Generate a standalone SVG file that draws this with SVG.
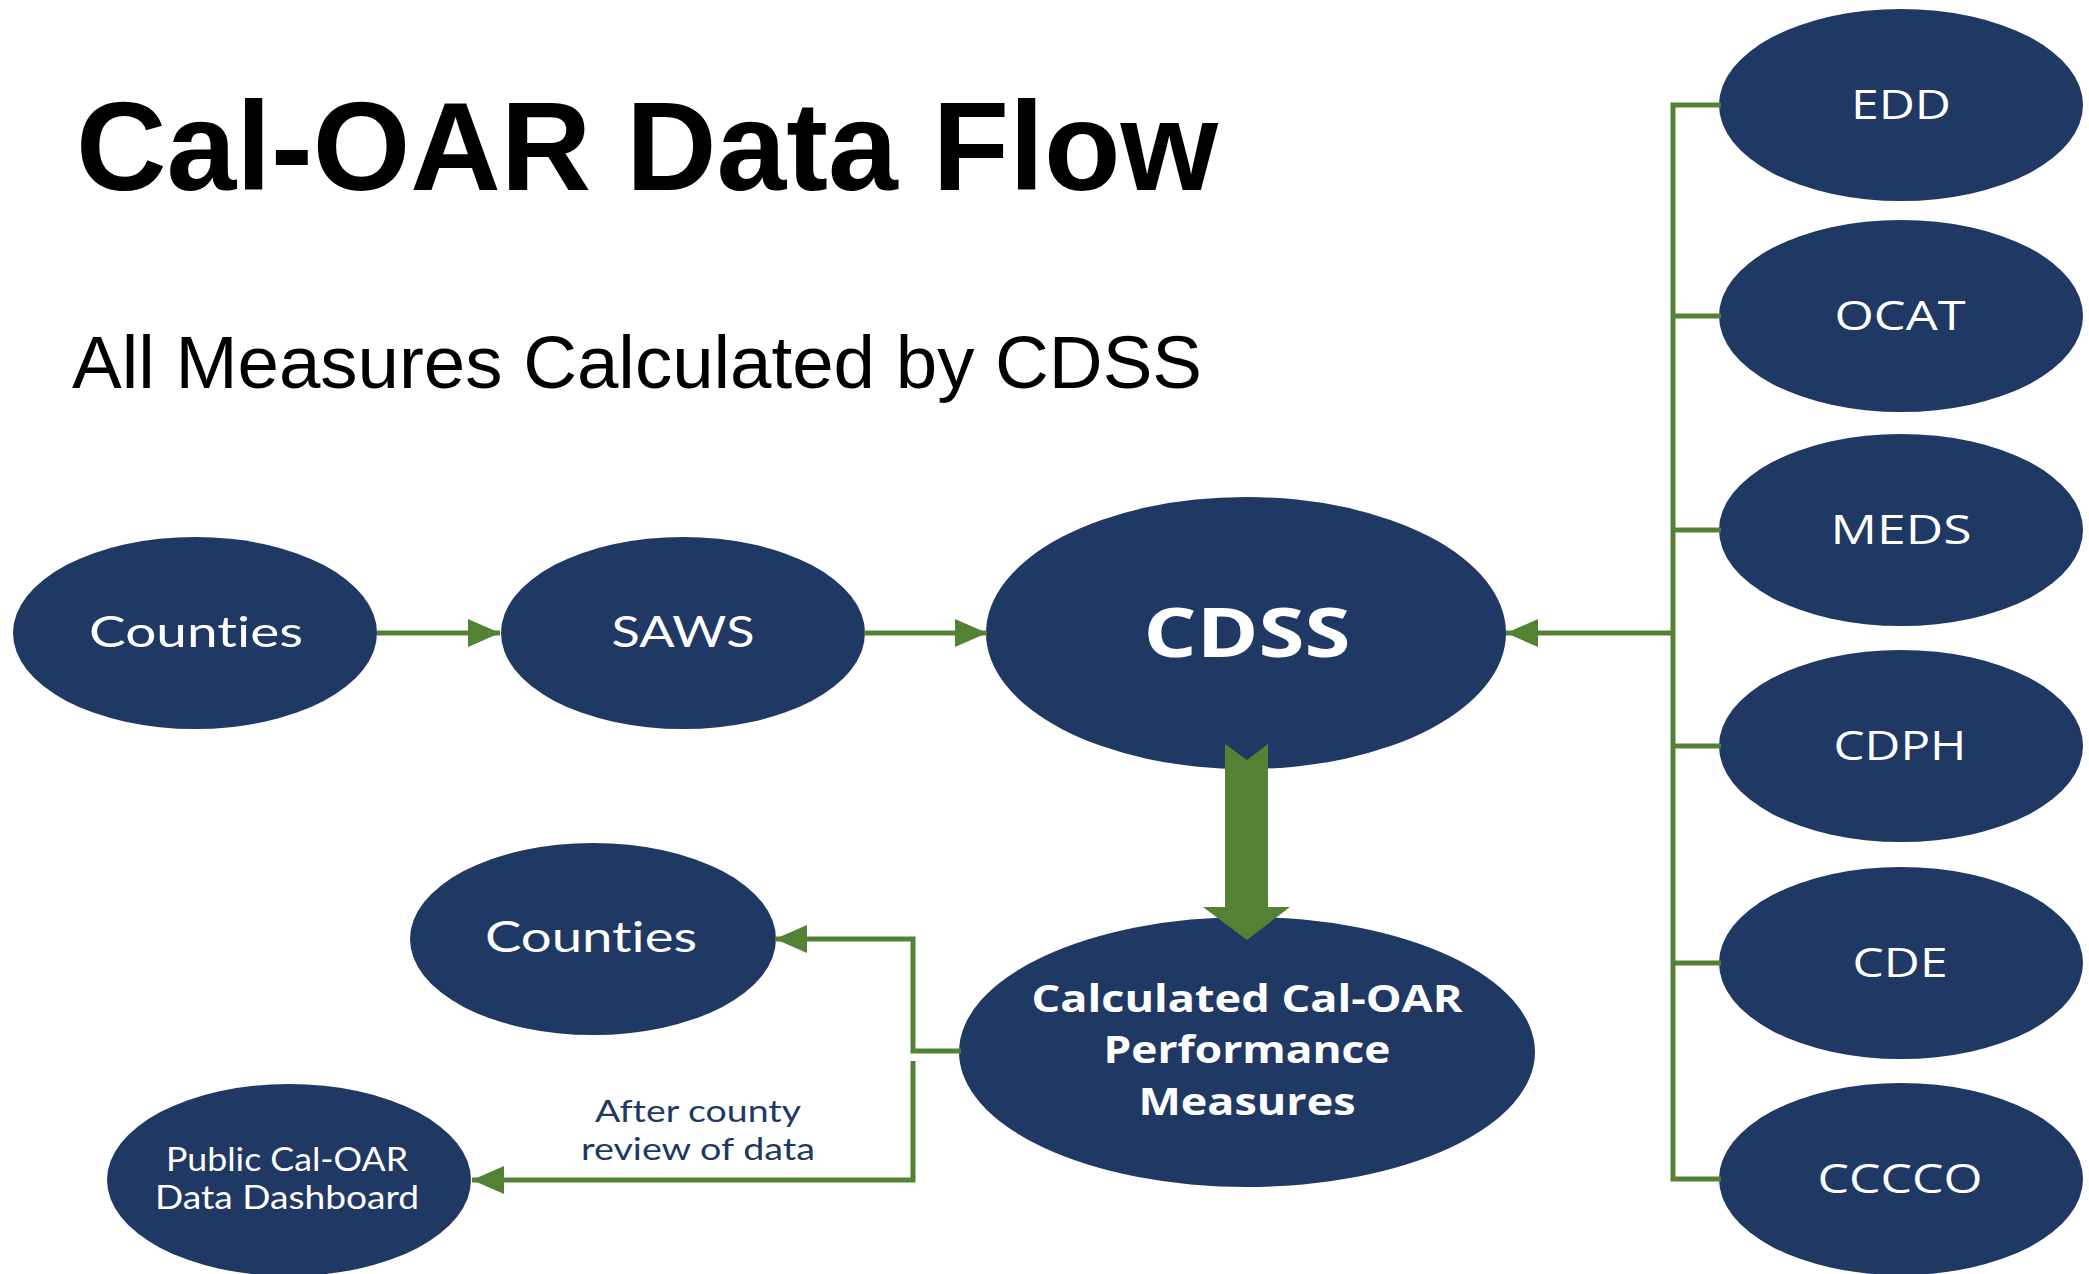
<svg xmlns="http://www.w3.org/2000/svg" width="2089" height="1274" viewBox="0 0 2089 1274">
  <style>
    text { font-variant-ligatures: none; font-feature-settings: "liga" 0, "clig" 0, "dlig" 0, "calt" 0; }
    .node { fill: #203864; }
    .lbl { fill: #ffffff; font-family: "Open Sans", "Liberation Sans", sans-serif; font-size: 41px; text-anchor: middle; }
    .lblc { fill: #ffffff; font-family: Lato, "Open Sans", sans-serif; font-size: 42px; text-anchor: middle; }
    .big { fill: #ffffff; font-family: "Open Sans", "Liberation Sans", sans-serif; font-size: 68px; font-weight: bold; text-anchor: middle; }
    .calc { fill: #ffffff; font-family: "Open Sans", "Liberation Sans", sans-serif; font-size: 38px; font-weight: bold; text-anchor: middle; }
    .small { fill: #ffffff; font-family: Lato, "Open Sans", sans-serif; font-size: 32px; text-anchor: middle; }
    .conn { fill: none; stroke: #548235; stroke-width: 5; stroke-linejoin: miter; stroke-linecap: butt; }
    .note { fill: #203864; font-family: Lato, "Open Sans", sans-serif; font-size: 31px; text-anchor: middle; }
    .title { fill: #000000; font-family: "Liberation Sans", Arial, sans-serif; }
  </style>
  <defs>
    <marker id="arrow" viewBox="0 0 32 28" refX="32" refY="14" markerWidth="32" markerHeight="28" markerUnits="userSpaceOnUse" orient="auto">
      <path d="M0,0 L32,14 L0,28 Z" fill="#548235"/>
    </marker>
  </defs>
  <rect width="2089" height="1274" fill="#ffffff"/>

  <text class="title" x="76" y="190" font-size="126" font-weight="bold" textLength="1142" lengthAdjust="spacingAndGlyphs">Cal-OAR Data Flow</text>
  <text class="title" x="72" y="388" font-size="74" textLength="1130" lengthAdjust="spacingAndGlyphs">All Measures Calculated by CDSS</text>

  <g id="node-counties-in">
    <ellipse class="node" cx="195" cy="633" rx="182" ry="96"/>
    <text class="lblc" x="196" y="647" textLength="214" lengthAdjust="spacingAndGlyphs">Counties</text>
  </g>
  <g id="node-saws">
    <ellipse class="node" cx="683" cy="633" rx="182" ry="96"/>
    <text class="lblc" x="683" y="647" textLength="143" lengthAdjust="spacingAndGlyphs">SAWS</text>
  </g>
  <g id="node-cdss">
    <ellipse class="node" cx="1246" cy="633" rx="260" ry="136"/>
    <text class="big" x="1247" y="657" textLength="207" lengthAdjust="spacingAndGlyphs">CDSS</text>
  </g>
  <g id="node-calculated">
    <ellipse class="node" cx="1247" cy="1052" rx="288" ry="135"/>
    <text class="calc" x="1247" y="1012" textLength="431" lengthAdjust="spacingAndGlyphs">Calculated Cal-OAR</text>
    <text class="calc" x="1247" y="1063" textLength="287" lengthAdjust="spacingAndGlyphs">Performance</text>
    <text class="calc" x="1247" y="1115" textLength="217" lengthAdjust="spacingAndGlyphs">Measures</text>
  </g>
  <g id="node-counties-out">
    <ellipse class="node" cx="593" cy="939" rx="183" ry="96"/>
    <text class="lblc" x="591" y="952" textLength="212" lengthAdjust="spacingAndGlyphs">Counties</text>
  </g>
  <g id="node-dashboard">
    <ellipse class="node" cx="289" cy="1180" rx="182" ry="96"/>
    <text class="small" x="287" y="1171" textLength="242" lengthAdjust="spacingAndGlyphs">Public Cal-OAR</text>
    <text class="small" x="287" y="1209" textLength="264" lengthAdjust="spacingAndGlyphs">Data Dashboard</text>
  </g>

  <g id="node-edd">
    <ellipse class="node" cx="1901" cy="105" rx="182" ry="96"/>
    <text class="lbl" x="1901" y="119" textLength="100" lengthAdjust="spacingAndGlyphs">EDD</text>
  </g>
  <g id="node-ocat">
    <ellipse class="node" cx="1901" cy="316" rx="182" ry="96"/>
    <text class="lbl" x="1900" y="330" textLength="131" lengthAdjust="spacingAndGlyphs">OCAT</text>
  </g>
  <g id="node-meds">
    <ellipse class="node" cx="1901" cy="530" rx="182" ry="96"/>
    <text class="lbl" x="1901" y="544" textLength="141" lengthAdjust="spacingAndGlyphs">MEDS</text>
  </g>
  <g id="node-cdph">
    <ellipse class="node" cx="1901" cy="746" rx="182" ry="96"/>
    <text class="lbl" x="1900" y="760" textLength="133" lengthAdjust="spacingAndGlyphs">CDPH</text>
  </g>
  <g id="node-cde">
    <ellipse class="node" cx="1901" cy="963" rx="182" ry="96"/>
    <text class="lbl" x="1900" y="977" textLength="95" lengthAdjust="spacingAndGlyphs">CDE</text>
  </g>
  <g id="node-cccco">
    <ellipse class="node" cx="1901" cy="1179" rx="182" ry="96"/>
    <text class="lbl" x="1900" y="1193" textLength="165" lengthAdjust="spacingAndGlyphs">CCCCO</text>
  </g>

  <g id="connectors">
    <line class="conn" x1="377" y1="633" x2="500" y2="633" marker-end="url(#arrow)"/>
    <line class="conn" x1="864" y1="633" x2="987" y2="633" marker-end="url(#arrow)"/>
    <path class="conn" d="M1721,105 H1673 V1179 H1721"/>
    <line class="conn" x1="1673" y1="316" x2="1721" y2="316"/>
    <line class="conn" x1="1673" y1="530" x2="1721" y2="530"/>
    <line class="conn" x1="1673" y1="746" x2="1721" y2="746"/>
    <line class="conn" x1="1673" y1="963" x2="1721" y2="963"/>
    <line class="conn" x1="1673" y1="633" x2="1506" y2="633" marker-end="url(#arrow)"/>
    <polygon points="1225,744 1247,760 1268,744 1268,907 1290,907 1247,940 1203,907 1225,907" fill="#548235"/>
    <path class="conn" d="M961,1051 H913 V939 H775" marker-end="url(#arrow)"/>
    <path class="conn" d="M913,1061 V1180 H472" marker-end="url(#arrow)"/>
    <text class="note" x="698" y="1122" textLength="206" lengthAdjust="spacingAndGlyphs">After county</text>
    <text class="note" x="698" y="1160" textLength="234" lengthAdjust="spacingAndGlyphs">review of data</text>
  </g>
</svg>
